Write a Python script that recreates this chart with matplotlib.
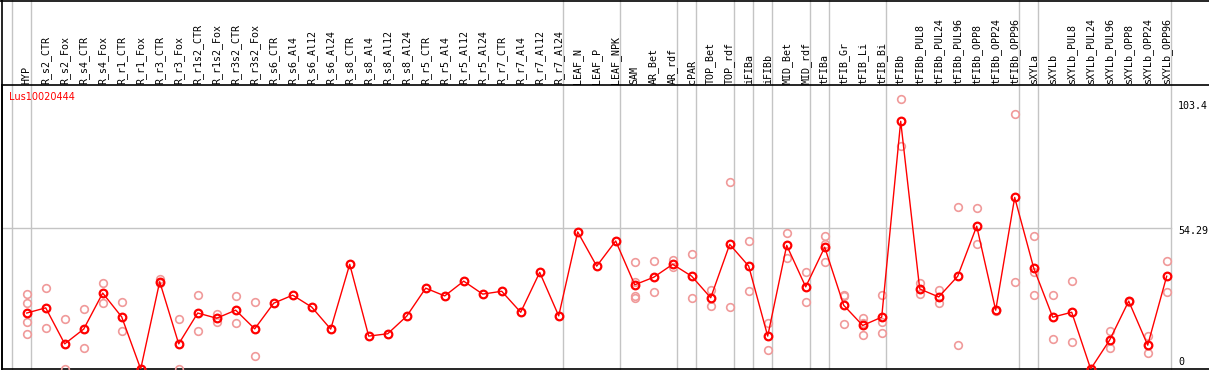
import matplotlib
matplotlib.use('Agg')
import matplotlib.pyplot as plt
from matplotlib.transforms import blended_transform_factory, offset_copy

# Sample names (one column each)
labels = ['HYP', 'R_s2_CTR', 'R_s2_Fox', 'R_s4_CTR', 'R_s4_Fox', 'R_r1_CTR', 'R_r1_Fox',
          'R_r3_CTR', 'R_r3_Fox', 'R_r1s2_CTR', 'R_r1s2_Fox', 'R_r3s2_CTR', 'R_r3s2_Fox',
          'R_s6_CTR', 'R_s6_Al4', 'R_s6_Al12', 'R_s6_Al24', 'R_s8_CTR', 'R_s8_Al4',
          'R_s8_Al12', 'R_s8_Al24', 'R_r5_CTR', 'R_r5_Al4', 'R_r5_Al12', 'R_r5_Al24',
          'R_r7_CTR', 'R_r7_Al4', 'R_r7_Al12', 'R_r7_Al24', 'LEAF_N', 'LEAF_P', 'LEAF_NPK',
          'SAM', 'AR_Bet', 'AR_rdf', 'cPAR', 'TOP_Bet', 'TOP_rdf', 'iFIBa', 'iFIBb',
          'MID_Bet', 'MID_rdf', 'tFIBa', 'tFIB_Gr', 'tFIB_Li', 'tFIB_Bi', 'tFIBb',
          'tFIBb_PUL8', 'tFIBb_PUL24', 'tFIBb_PUL96', 'tFIBb_OPP8', 'tFIBb_OPP24',
          'tFIBb_OPP96', 'sXYLa', 'sXYLb', 'sXYLb_PUL8', 'sXYLb_PUL24', 'sXYLb_PUL96',
          'sXYLb_OPP8', 'sXYLb_OPP24', 'sXYLb_OPP96']

# Mean expression per sample
means = [21.6, 23.6, 9.7, 15.4, 29.3, 20.1, 0, 33.7, 9.7, 21.6, 19.6, 22.7, 15.5,
         25.4, 28.5, 23.9, 15.4, 40.4, 12.7, 13.6, 20.4, 31.2, 28.2, 33.9, 28.9,
         30.0, 21.9, 37.3, 20.5, 52.9, 39.7, 49.4, 32.5, 35.4, 40.4, 35.8, 27.5,
         48.1, 39.7, 12.7, 47.7, 31.7, 47.0, 24.6, 16.8, 20.0, 95.6, 30.9, 27.8,
         35.8, 55.1, 22.7, 66.2, 39.0, 20.0, 21.9, 0, 11.2, 26.2, 9.2, 35.8]

# Individual replicates per sample
replicates = [[28.9, 25.4, 18.3, 13.6], [31.2, 15.8], [19.4, 0], [23.1, 8.1],
              [33.1, 25.4], [25.8, 14.6], [0, 0], [34.6, 33.1], [19.4, 0],
              [28.5, 14.6], [21.3, 18.1], [28.2, 17.7], [25.8, 5.1]] \
    + [[] for _ in range(19)] \
    + [[41.2, 33.5, 28.0, 27.5], [41.7, 29.6], [42.0, 39.4], [44.3, 27.5],
       [30.5, 24.3], [72.0, 24.0], [49.3, 30.1], [17.7, 7.3], [52.4, 42.7],
       [37.3, 25.8], [51.3, 48.2, 41.2], [28.5, 28.2, 17.3], [19.8, 17.7, 13.1],
       [28.6, 18.1, 13.9], [104.3, 86.1], [33.2, 28.9], [30.5, 25.3], [62.4, 9.4],
       [62.0, 48.4], [22.9, 22.5], [98.6, 33.5], [51.2, 37.3, 28.6], [28.6, 11.6],
       [34.0, 10.5], [0, 0], [14.6, 8.1], [26.4, 26.0], [12.9, 6.2], [41.7, 29.6]]

# Last sample index of each group (separator drawn after it)
group_ends = [-1, 0, 28, 31, 34, 35, 37, 38, 39, 41, 42, 45, 52, 53, 60]

gene = 'Lus10020444'
scale_labels = ['103.4', '54.29', '0']
scale_values = [103.4, 54.29, 0]

W, H = 1209, 370
fig = plt.figure(figsize=(W / 100, H / 100), dpi=100)
ax = fig.add_axes([1.5 / W, 1 / H, (W - 1.5) / W, 284 / H])

x = list(range(len(labels)))

# Replicates in light red
for i, vals in enumerate(replicates):
    if vals:
        ax.plot([i] * len(vals), vals, 'o', ms=5.5, mfc='none', mec='#f09a9a',
                mew=1.2, zorder=3)

# Mean line
ax.plot(x, means, '-o', color='#ff0000', lw=1.0, ms=5.5, mfc='none', mew=1.6, zorder=4)

ax.set_xlim((1.5 - 26.7) / 19, (W - 26.7) / 19)
ax.set_ylim(0, 109.6)
ax.set_xticks([])
ax.set_yticks([])
ax.spines['right'].set_visible(False)
for s in ['left', 'top', 'bottom']:
    ax.spines[s].set_linewidth(1.2)

# Group separators, full height through the label area
for g in group_ends:
    ax.axvline(g + 0.21, ymin=0, ymax=H / 284, color='#c4c4c4', lw=1, clip_on=False,
               zorder=1)
ax.plot([ax.get_xlim()[0], 60.21], [54.29, 54.29], color='#c4c4c4', lw=1, zorder=1)

# Column labels
trans = blended_transform_factory(ax.transData, ax.transAxes)
for i, lab in enumerate(labels):
    ax.text(i, 1 + 1.5 / 284, lab, transform=trans, rotation=90, ha='center',
            va='bottom', fontsize=7.2, family='DejaVu Sans Mono')

# Gene name, just under the label row
ax.text((9.5 - 1.5) / (W - 1.5), 1 - 12 / 284, gene, transform=ax.transAxes,
        color='#ff0000', fontsize=7, va='center', ha='left', zorder=5)

# Scale labels on the right
offsets = [-5, -3, 7]
for lab, v, dy in zip(scale_labels, scale_values, offsets):
    t = offset_copy(ax.transData, fig=fig, x=0, y=dy, units='dots')
    ax.text((1178 - 26.7) / 19, v, lab, transform=t, ha='left', va='center',
            fontsize=7.2, family='DejaVu Sans Mono', clip_on=False)

# Outer frame lines
fig.add_artist(plt.Line2D([0, 1], [1 - 0.6 / H, 1 - 0.6 / H], color='black', lw=1.2))
fig.add_artist(plt.Line2D([1.5 / W, 1.5 / W], [0, 1], color='black', lw=1.2))

fig.savefig('out.png', dpi=100)
